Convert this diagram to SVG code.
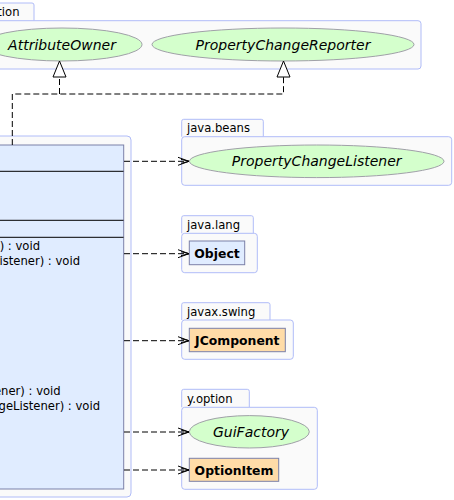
<svg xmlns="http://www.w3.org/2000/svg" width="454" height="500" viewBox="0 0 454 500">
<defs>
<style>
.pkg{fill:#fafafa;stroke:#b0bcf8;stroke-width:1}
.cls{fill:#e0ecff;stroke:#7b80a8;stroke-width:1}
.ext{fill:#ffdca8;stroke:#7b80a8;stroke-width:1}
.ifc{fill:#d4ffcc;stroke:#a0a0a8;stroke-width:1}
.sep{stroke:#000;stroke-width:1}
.plabel{font-family:"DejaVu Sans",sans-serif;font-size:11.6px;fill:#000}
.mlabel{font-family:"DejaVu Sans",sans-serif;font-size:11.6px;fill:#000}
.iname{font-family:"DejaVu Sans",sans-serif;font-size:14px;font-style:italic;fill:#000}
.cname{font-family:"DejaVu Sans",sans-serif;font-size:12.4px;font-weight:bold;fill:#000}
.dep{fill:none;stroke:#000;stroke-width:1;stroke-dasharray:6,3}
</style>
<marker id="open" markerWidth="12" markerHeight="10" refX="11" refY="5" orient="auto" markerUnits="userSpaceOnUse">
<path d="M0,1 L11,5 L0,9 M3,3 L11,5 L3,7" fill="none" stroke="#000" stroke-width="1"/>
</marker>
</defs>

<g id="pkg-option-top">
<path class="pkg" d="M-10,20.7 V5 Q-10,3 -8,3 H32 Q34,3 34,5 V20.7"/>
<rect class="pkg" x="-10" y="20.7" width="431" height="48.3" rx="3"/>
<text class="plabel" x="19.5" y="16" text-anchor="end">tion</text>
</g>
<g id="AttributeOwner">
<ellipse class="ifc" cx="62" cy="44.5" rx="80" ry="16.5"/>
<text class="iname" x="62" y="49.5" text-anchor="middle">AttributeOwner</text>
</g>
<g id="PropertyChangeReporter">
<ellipse class="ifc" cx="283" cy="44.5" rx="131" ry="16.5"/>
<text class="iname" x="283" y="49.5" text-anchor="middle">PropertyChangeReporter</text>
</g>

<g id="main-class">
<rect class="pkg" x="-10" y="136" width="141" height="361" rx="4"/>
<rect class="cls" x="-10" y="145" width="133.7" height="344"/>
<line class="sep" x1="-10" y1="171.3" x2="123.5" y2="171.3"/>
<line class="sep" x1="-10" y1="220.3" x2="123.5" y2="220.3"/>
<line class="sep" x1="-10" y1="237.3" x2="123.5" y2="237.3"/>
<text class="mlabel" x="40" y="250" text-anchor="end">) : void</text>
<text class="mlabel" x="80" y="265" text-anchor="end">Listener) : void</text>
<text class="mlabel" x="60.7" y="395" text-anchor="end">ener) : void</text>
<text class="mlabel" x="100" y="410" text-anchor="end">ngeListener) : void</text>
</g>

<g id="pkg-java-beans">
<path class="pkg" d="M181.7,136.7 V121.3 Q181.7,119.3 183.7,119.3 H261.3 Q263.3,119.3 263.3,121.3 V136.7"/>
<rect class="pkg" x="181.7" y="136.7" width="270" height="48.6" rx="3"/>
<text class="plabel" x="187" y="132">java.beans</text>
</g>
<g id="PropertyChangeListener">
<ellipse class="ifc" cx="316.7" cy="161.3" rx="127.3" ry="16.3"/>
<text class="iname" x="316.7" y="166.3" text-anchor="middle">PropertyChangeListener</text>
</g>

<g id="pkg-java-lang">
<path class="pkg" d="M181.7,233.3 V217.7 Q181.7,215.7 183.7,215.7 H251.3 Q253.3,215.7 253.3,217.7 V233.3"/>
<rect class="pkg" x="181.7" y="233.3" width="75.6" height="39.4" rx="3"/>
<text class="plabel" x="187" y="228.5">java.lang</text>
</g>
<g id="Object">
<rect class="cls" x="189.3" y="241" width="55.4" height="23.7"/>
<text class="cname" x="217" y="257.7" text-anchor="middle">Object</text>
</g>

<g id="pkg-javax-swing">
<path class="pkg" d="M181.7,320 V304.7 Q181.7,302.7 183.7,302.7 H268 Q270,302.7 270,304.7 V320"/>
<rect class="pkg" x="181.7" y="320" width="111.6" height="39.3" rx="3"/>
<text class="plabel" x="187" y="315.5">javax.swing</text>
</g>
<g id="JComponent">
<rect class="ext" x="189.3" y="328.3" width="96" height="23.4"/>
<text class="cname" x="237.3" y="344.8" text-anchor="middle">JComponent</text>
</g>

<g id="pkg-y-option">
<path class="pkg" d="M181.7,407.3 V391.3 Q181.7,389.3 183.7,389.3 H247.3 Q249.3,389.3 249.3,391.3 V407.3"/>
<rect class="pkg" x="181.7" y="407.3" width="135.6" height="82" rx="3"/>
<text class="plabel" x="187" y="402.5">y.option</text>
</g>
<g id="GuiFactory">
<ellipse class="ifc" cx="249.3" cy="431.8" rx="60" ry="16.2"/>
<text class="iname" x="251" y="436.8" text-anchor="middle">GuiFactory</text>
</g>
<g id="OptionItem">
<rect class="ext" x="189.3" y="458.3" width="89.4" height="23"/>
<text class="cname" x="234" y="474.5" text-anchor="middle">OptionItem</text>
</g>

<g id="connectors">
<path class="dep" d="M12.3,145 V94 H283.5 V77"/>
<path class="dep" d="M59.5,94 V77"/>
<polygon points="59.5,61 53,77 66,77" fill="#fff" stroke="#000" stroke-width="1"/>
<polygon points="283.5,61 277,77 290,77" fill="#fff" stroke="#000" stroke-width="1"/>
<path class="dep" d="M124,161.3 H189" marker-end="url(#open)"/>
<path class="dep" d="M124,253.7 H189" marker-end="url(#open)"/>
<path class="dep" d="M124,340.7 H189" marker-end="url(#open)"/>
<path class="dep" d="M124,432 H189" marker-end="url(#open)"/>
<path class="dep" d="M124,470 H189" marker-end="url(#open)"/>
</g>
</svg>
